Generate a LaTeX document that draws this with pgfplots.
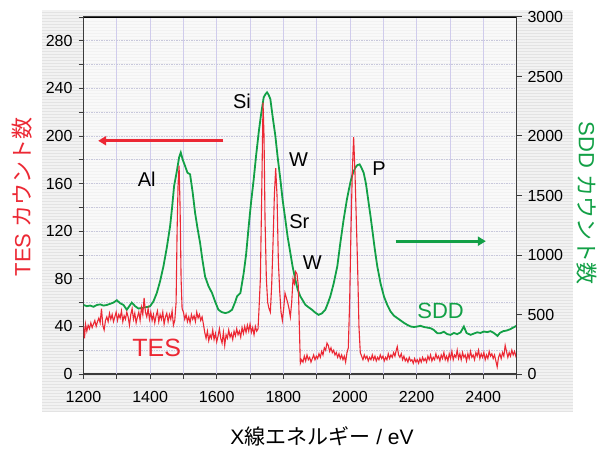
\documentclass[border=0pt]{standalone}
\usepackage{fontspec}
\setmainfont{Liberation Sans}
\newfontfamily\cjk{Noto Sans CJK JP}
\usepackage{pgfplots}
\pgfplotsset{compat=1.18}
\usetikzlibrary{arrows.meta}
\definecolor{tesred}{RGB}{236,40,52}
\definecolor{sddgreen}{RGB}{18,160,70}
\definecolor{gridv}{RGB}{208,204,236}
\definecolor{gridh}{RGB}{200,200,220}
\definecolor{axgray}{RGB}{60,60,60}

\begin{document}
\begin{tikzpicture}
\useasboundingbox (0,0) rectangle (601pt,450pt);
\fill[black!5] (42pt,38pt) rectangle (573pt,440pt);
\foreach \yy in {39,42,...,440} {\draw[black!11, line width=0.7pt] (42pt,\yy pt) -- (573pt,\yy pt);}

\begin{axis}[
  at={(83.5pt,76pt)}, anchor=south west,
  scale only axis, width=433pt, height=357pt,
  xmin=1200, xmax=2500, ymin=0, ymax=300,
  xtick={1200,1400,...,2400}, minor xtick={1300,1500,...,2500},
  ytick={0,40,...,280}, minor ytick={20,60,...,300},
  tick align=outside, xtick pos=bottom, ytick pos=left,
  major tick length=5pt, minor tick length=5pt,
  every tick/.style={axgray, line width=1pt},
  axis line style={axgray, line width=1.2pt},
  axis background/.style={fill=white, fill opacity=0.55},
  tick label style={font=\fontsize{16}{19}\selectfont},
  xticklabel style={yshift=-8.5pt},
  yticklabel style={xshift=-2.5pt},
  /pgf/number format/assume math mode=true,
  /pgf/number format/1000 sep={},
  xlabel={X{\cjk 線エネルギー} / eV},
  every axis x label/.style={at={(axis description cs:0.551,-0.176)}, anchor=center, font=\fontsize{21}{24}\selectfont},
  ylabel={TES {\cjk カウント数}},
  every axis y label/.style={at={(axis description cs:-0.142,0.496)}, rotate=90, anchor=center, font=\fontsize{22}{26}\selectfont, text=tesred},
  clip=true,
]
\pgfplotsinvokeforeach{1300,1400,...,2400}{\draw[gridv, line width=0.7pt] (axis cs:#1,0) -- (axis cs:#1,300);}
\pgfplotsinvokeforeach{20,40,...,280}{\draw[gridh, line width=0.8pt, dash pattern=on 1.5pt off 1pt] (axis cs:1200,#1) -- (axis cs:2500,#1);}

\addplot[sddgreen, line width=1.8pt] table[x=x, y expr=\thisrow{c}/10] {
x c
1200 580
1210 570
1220 575
1230 565
1240 580
1250 585
1260 575
1270 580
1280 590
1290 600
1300 620
1310 595
1320 580
1330 540
1335 560
1345 600
1355 570
1365 550
1375 555
1385 560
1395 565
1400 570
1410 610
1420 680
1430 780
1440 905
1450 1060
1460 1242
1466 1400
1472 1580
1480 1700
1487 1820
1492 1861
1498 1800
1505 1748
1512 1692
1520 1678
1528 1520
1535 1355
1542 1230
1550 1102
1557 960
1565 820
1575 740
1586 680
1595 610
1605 540
1615 520
1626 512
1636 520
1646 540
1656 610
1661 652
1671 680
1681 849
1688 1000
1696 1242
1703 1440
1711 1636
1718 1830
1726 2030
1733 2180
1741 2325
1746 2350
1751 2367
1756 2345
1761 2310
1768 2160
1776 2001
1783 1820
1791 1636
1798 1460
1806 1298
1813 1150
1821 1018
1828 900
1836 793
1843 710
1851 652
1858 620
1866 582
1876 560
1886 540
1896 515
1906 497
1916 510
1926 540
1933 590
1941 652
1951 760
1962 905
1971 1100
1981 1298
1991 1470
2001 1608
2008 1680
2016 1734
2022 1755
2029 1762
2035 1730
2041 1692
2048 1600
2056 1439
2062 1320
2067 1214
2074 1060
2082 905
2092 760
2102 652
2112 580
2122 525
2132 490
2142 470
2152 450
2162 430
2172 413
2182 399
2192 395
2202 399
2212 405
2222 395
2232 390
2242 385
2252 370
2262 343
2272 343
2282 355
2292 335
2302 329
2312 345
2322 335
2332 350
2342 399
2350 345
2362 329
2372 340
2382 350
2392 345
2402 357
2412 352
2422 360
2432 345
2443 320
2450 345
2460 360
2470 365
2480 375
2490 390
2500 405
};

\addplot[tesred, line width=1.1pt] coordinates {
(1200,40) (1203,30) (1206,42) (1210,36) (1214,41) (1218,38) (1222,43) (1226,39) (1230,42) (1234,45)
(1238,40) (1242,44) (1246,47) (1250,43) (1254,55) (1258,41) (1262,37) (1266,45) (1270,48) (1274,44)
(1278,51) (1282,46) (1286,50) (1290,44) (1294,48) (1298,52) (1302,45) (1306,50) (1310,47) (1314,53)
(1318,44) (1322,49) (1326,46) (1330,52) (1334,48) (1338,41) (1342,50) (1346,55) (1350,46) (1354,51)
(1358,43) (1362,48) (1366,52) (1370,45) (1374,56) (1378,50) (1382,64) (1386,52) (1390,48) (1394,55)
(1398,46) (1402,52) (1406,45) (1410,50) (1414,43) (1418,49) (1422,53) (1426,44) (1430,50) (1434,46)
(1438,52) (1442,42) (1446,48) (1450,51) (1454,44) (1458,50) (1462,46) (1466,53) (1470,41) (1474,45)
(1478,60) (1481,120) (1484,160) (1487,175) (1490,140) (1493,80) (1496,55) (1500,52) (1504,46) (1508,50)
(1512,44) (1516,48) (1520,43) (1524,50) (1528,46) (1532,49) (1536,44) (1540,52) (1544,47) (1548,50)
(1552,45) (1556,48) (1560,42) (1564,35) (1568,30) (1572,36) (1576,28) (1580,33) (1584,30) (1588,37)
(1592,29) (1596,34) (1600,27) (1604,32) (1608,38) (1612,30) (1616,26) (1620,35) (1624,24) (1628,33)
(1632,30) (1636,37) (1640,31) (1644,34) (1648,29) (1652,36) (1656,32) (1660,38) (1664,33) (1668,36)
(1672,31) (1676,39) (1680,34) (1684,40) (1688,35) (1692,41) (1696,36) (1700,42) (1704,35) (1708,39)
(1712,33) (1716,40) (1720,36) (1724,38) (1727,55) (1731,80) (1735,150) (1739,228) (1742,200) (1745,130)
(1749,80) (1753,60) (1757,55) (1761,52) (1765,75) (1769,110) (1773,150) (1777,173) (1781,150) (1785,95)
(1789,70) (1793,52) (1797,45) (1801,55) (1805,68) (1809,64) (1813,60) (1817,55) (1821,48) (1825,60)
(1829,80) (1833,76) (1837,86) (1841,84) (1845,74) (1848,40) (1851,9) (1855,12) (1859,10) (1863,15)
(1867,11) (1871,16) (1875,12) (1879,14) (1883,10) (1887,13) (1891,16) (1895,12) (1899,15) (1903,13)
(1907,17) (1911,14) (1915,19) (1919,16) (1923,22) (1927,20) (1931,26) (1935,24) (1939,19) (1943,22)
(1947,18) (1951,20) (1955,16) (1959,18) (1963,14) (1967,17) (1971,13) (1975,16) (1979,12) (1983,15)
(1987,10) (1991,18) (1995,22) (1999,60) (2003,120) (2007,170) (2011,199) (2015,170) (2019,130) (2023,90)
(2027,40) (2031,18) (2035,15) (2039,12) (2043,16) (2047,13) (2051,15) (2055,11) (2059,14) (2063,12)
(2067,16) (2071,12) (2075,15) (2079,11) (2083,14) (2087,12) (2091,16) (2095,13) (2099,15) (2103,11)
(2107,14) (2111,12) (2115,17) (2119,13) (2123,16) (2127,14) (2131,18) (2135,15) (2139,20) (2142,23)
(2146,16) (2150,14) (2154,17) (2158,12) (2162,15) (2166,11) (2170,13) (2174,10) (2178,14) (2182,11)
(2186,12) (2190,9) (2194,13) (2198,10) (2202,12) (2206,9) (2210,13) (2214,10) (2218,14) (2222,11)
(2226,13) (2230,10) (2234,15) (2238,12) (2242,16) (2246,11) (2250,14) (2254,12) (2258,17) (2262,13)
(2266,15) (2270,11) (2274,16) (2278,13) (2282,18) (2286,12) (2290,15) (2294,11) (2298,17) (2302,13)
(2306,19) (2310,12) (2314,16) (2318,14) (2322,20) (2326,13) (2330,17) (2334,12) (2338,18) (2342,14)
(2346,16) (2350,11) (2354,17) (2358,13) (2362,19) (2366,14) (2370,16) (2374,12) (2378,18) (2382,15)
(2386,20) (2390,13) (2394,17) (2398,14) (2402,18) (2406,12) (2410,16) (2414,13) (2418,19) (2422,15)
(2426,17) (2430,13) (2434,16) (2438,11) (2442,6) (2446,14) (2450,17) (2454,13) (2458,18) (2462,15)
(2466,24) (2470,19) (2474,14) (2478,18) (2482,15) (2486,20) (2490,16) (2494,19) (2498,15) (2500,17)
};

\node[font=\fontsize{20}{24}\selectfont] at (axis cs:1390,164) {Al};
\node[font=\fontsize{20}{24}\selectfont] at (axis cs:1676,229) {Si};
\node[font=\fontsize{20}{24}\selectfont] at (axis cs:1846,180) {W};
\node[font=\fontsize{20}{24}\selectfont] at (axis cs:1848,128) {Sr};
\node[font=\fontsize{20}{24}\selectfont] at (axis cs:1887,94) {W};
\node[font=\fontsize{20}{24}\selectfont] at (axis cs:2087,173) {P};
\node[font=\fontsize{25}{28}\selectfont, text=tesred] at (axis cs:1420,22) {TES};
\node[font=\fontsize{22}{26}\selectfont, text=sddgreen] at (axis cs:2272,53) {SDD};
\draw[tesred, line width=3pt, -{Triangle[length=8pt,width=9pt]}] (axis cs:1620,196) -- (axis cs:1244,196);
\draw[sddgreen, line width=3pt, -{Triangle[length=8pt,width=9pt]}] (axis cs:2137,111.6) -- (axis cs:2408,111.6);
\draw[black, line width=1.4pt] (rel axis cs:0,1) -- (rel axis cs:1,1);
\end{axis}

\begin{axis}[
  at={(83.5pt,76pt)}, anchor=south west,
  scale only axis, width=433pt, height=357pt,
  xmin=1200, xmax=2500, ymin=0, ymax=3000,
  hide x axis, axis y line*=right,
  ytick={0,500,...,3000},
  tick align=outside, major tick length=5pt,
  every tick/.style={axgray, line width=1pt},
  axis line style={axgray, line width=1.2pt, -},
  tick label style={font=\fontsize{16}{19}\selectfont},
  yticklabel style={xshift=2.5pt},
  /pgf/number format/assume math mode=true,
  /pgf/number format/1000 sep={},
  ylabel={SDD {\cjk カウント数}},
  every axis y label/.style={at={(axis description cs:1.163,0.479)}, rotate=-90, anchor=center, font=\fontsize{22}{26}\selectfont, text=sddgreen},
]
\end{axis}
\end{tikzpicture}
\end{document}
